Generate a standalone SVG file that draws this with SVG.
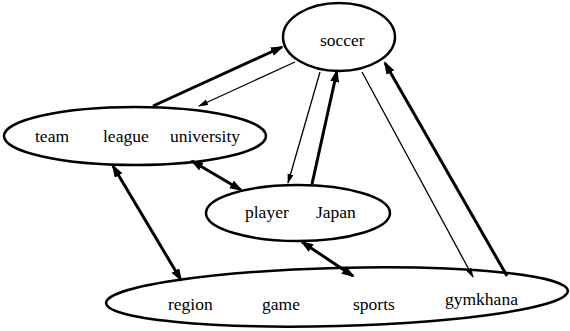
<svg xmlns="http://www.w3.org/2000/svg" width="570" height="331" viewBox="0 0 570 331">
<style>
.node{fill:#fff;stroke:#000;stroke-width:2.5}
.lbl{font-family:"Liberation Serif","Times New Roman",serif;font-size:17.5px;fill:#000}
.thick{stroke:#000;stroke-width:3;fill:none}
.thin{stroke:#000;stroke-width:1.3;fill:none}
</style>
<defs>
<marker id="ah" markerUnits="userSpaceOnUse" markerWidth="14" markerHeight="10" refX="11" refY="4.5" orient="auto-start-reverse"><path d="M0,0 L13,4.5 L0,9 z" fill="#000"/></marker>
<marker id="at" markerUnits="userSpaceOnUse" markerWidth="11" markerHeight="8" refX="9" refY="3" orient="auto"><path d="M0,0 L10,3 L0,6 z" fill="#000"/></marker>
</defs>
<rect width="570" height="331" fill="#fff"/>
<g id="soccer"><ellipse class="node" cx="339" cy="37" rx="56" ry="34"/><text class="lbl" x="320" y="46">soccer</text></g>
<g id="team"><ellipse class="node" cx="135" cy="136" rx="131" ry="29"/><text class="lbl" x="35" y="142">team</text><text class="lbl" x="103" y="142">league</text><text class="lbl" x="170" y="142">university</text></g>
<g id="player"><ellipse class="node" cx="298" cy="213" rx="92" ry="28"/><text class="lbl" x="245" y="218">player</text><text class="lbl" x="316" y="218">Japan</text></g>
<g id="region"><ellipse class="node" cx="337" cy="297" rx="231" ry="29" transform="rotate(-1.5 337 297)"/><text class="lbl" x="168" y="310">region</text><text class="lbl" x="262" y="310">game</text><text class="lbl" x="353" y="310">sports</text><text class="lbl" x="445" y="305">gymkhana</text></g>
<g id="connectors">
<path class="thick" d="M153,106 L282,47" marker-end="url(#ah)"/>
<path class="thin" d="M295,62 L199,106" marker-end="url(#at)"/>
<path class="thin" d="M320,72 L288,183" marker-end="url(#at)"/>
<path class="thick" d="M312,184 L337,71" marker-end="url(#ah)"/>
<path class="thin" d="M362,72 L473,277" marker-end="url(#at)"/>
<path class="thick" d="M507,276 L385,63" marker-end="url(#ah)"/>
<path class="thick" d="M192,161 L241,190" marker-start="url(#ah)" marker-end="url(#ah)"/>
<path class="thick" d="M113,166 L181,280" marker-start="url(#ah)" marker-end="url(#ah)"/>
<path class="thick" d="M302,242 L353,276" marker-start="url(#ah)" marker-end="url(#ah)"/>
</g>
</svg>
